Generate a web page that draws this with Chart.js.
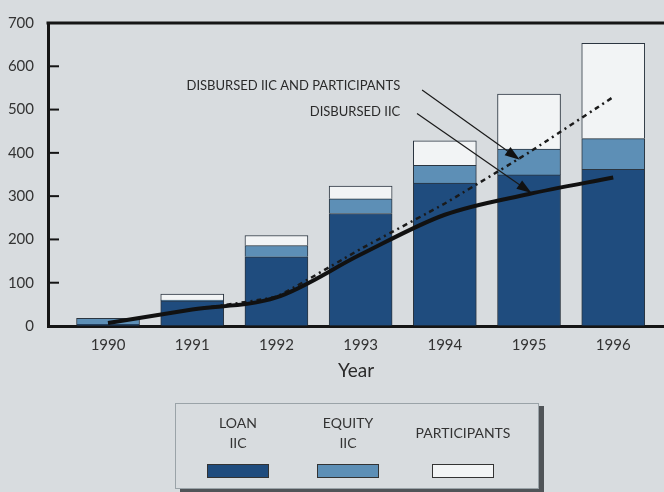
<!DOCTYPE html>
<html>
<head>
<meta charset="utf-8">
<script src="https://cdn.jsdelivr.net/npm/chart.js@4.4.0/dist/chart.umd.min.js"></script>
<style>
  html, body { margin: 0; padding: 0; background: #d8dcdf; }
  #wrap { position: relative; width: 664px; height: 492px; }
  canvas { position: absolute; left: 0; top: 0; }
  #legend {
    position: absolute; left: 175px; top: 403px; width: 362px; height: 84px;
    border: 1px solid #9aa3a8; box-shadow: 5px 3px 0 #505458;
    font-family: Lato, sans-serif; font-size: 14px; color: #333;
  }
  .item { position: absolute; text-align: center; line-height: 20px; }
  .sw { position: absolute; top: 60px; width: 60px; height: 12px; border: 1px solid #333; }
</style>
</head>
<body>
<div id="wrap">
  <canvas id="chart" width="664" height="492"></canvas>
  <div id="legend"></div>
</div>
<script>
const years = [1990, 1991, 1992, 1993, 1994, 1995, 1996];
const loanIIC = [4, 58, 160, 260, 330, 349, 362];
const equityIIC = [14, 2, 26, 34, 41, 60, 71];
const participants = [0, 14, 23, 29, 57, 127, 220];
const disbursedIIC = [7, 38, 66, 165, 257, 305, 343];
const disbursedAll = [7, 38, 68, 178, 283, 401, 529];
const yTicks = [0, 100, 200, 300, 400, 500, 600, 700];

const colors = { loan: '#1f4c7e', equity: '#5d8fb6', part: '#f2f4f5' };

// callout labels and arrows, in axis units
const callouts = [
    { text: 'DISBURSED IIC AND PARTICIPANTS', tx: 1993.47, ty: 556, from: [1993.73, 545], to: [1994.89, 384] },
    { text: 'DISBURSED IIC', tx: 1993.47, ty: 495, from: [1993.67, 491], to: [1995.03, 307] }
];

const pts = arr => years.map((y, i) => ({ x: y, y: arr[i] }));
const barStyle = { borderColor: '#2b3540', borderWidth: 1, barThickness: 63, order: 1, yAxisID: 'y' };

const extras = {
    id: 'extras',
    afterDraw(chart) {
        const { ctx, chartArea, scales: { x, y } } = chart;
        ctx.save();
        // top frame line
        ctx.strokeStyle = '#151515';
        ctx.lineWidth = 3;
        ctx.beginPath();
        ctx.moveTo(chartArea.left - 1.5, chartArea.top);
        ctx.lineTo(chartArea.right, chartArea.top);
        ctx.stroke();
        // inward tick marks
        ctx.lineWidth = 2;
        yTicks.slice(1, -1).forEach(v => {
            const py = y.getPixelForValue(v);
            ctx.beginPath();
            ctx.moveTo(chartArea.left, py);
            ctx.lineTo(chartArea.left + 11, py);
            ctx.stroke();
        });
        // callouts
        ctx.fillStyle = '#2a2a2a';
        ctx.font = '13px Lato, sans-serif';
        ctx.textAlign = 'right';
        ctx.textBaseline = 'middle';
        callouts.forEach(c => {
            const w = c.text.length > 20 ? 221 : 91;
            ctx.fillText(c.text, x.getPixelForValue(c.tx), y.getPixelForValue(c.ty), w);
            const x0 = x.getPixelForValue(c.from[0]), y0 = y.getPixelForValue(c.from[1]);
            const x1 = x.getPixelForValue(c.to[0]), y1 = y.getPixelForValue(c.to[1]);
            const a = Math.atan2(y1 - y0, x1 - x0);
            ctx.strokeStyle = '#1a1a1a';
            ctx.lineWidth = 1.2;
            ctx.beginPath();
            ctx.moveTo(x0, y0);
            ctx.lineTo(x1 - 12 * Math.cos(a), y1 - 12 * Math.sin(a));
            ctx.stroke();
            ctx.beginPath();
            ctx.moveTo(x1, y1);
            ctx.lineTo(x1 - 15 * Math.cos(a) + 5 * Math.sin(a), y1 - 15 * Math.sin(a) - 5 * Math.cos(a));
            ctx.lineTo(x1 - 15 * Math.cos(a) - 5 * Math.sin(a), y1 - 15 * Math.sin(a) + 5 * Math.cos(a));
            ctx.closePath();
            ctx.fillStyle = '#111';
            ctx.fill();
            ctx.fillStyle = '#2a2a2a';
        });
        ctx.restore();
    }
};

new Chart(document.getElementById('chart'), {
    type: 'bar',
    data: {
        datasets: [
            { label: 'LOAN IIC', data: pts(loanIIC), backgroundColor: colors.loan, ...barStyle },
            { label: 'EQUITY IIC', data: pts(equityIIC), backgroundColor: colors.equity, ...barStyle },
            { label: 'PARTICIPANTS', data: pts(participants), backgroundColor: colors.part, ...barStyle },
            {
                type: 'line', label: 'DISBURSED IIC', data: pts(disbursedIIC), yAxisID: 'y2',
                borderColor: '#111', borderWidth: 4, pointRadius: 0, cubicInterpolationMode: 'monotone', order: 0
            },
            {
                type: 'line', label: 'DISBURSED IIC AND PARTICIPANTS', data: pts(disbursedAll), yAxisID: 'y2',
                borderColor: '#1a1a1a', borderWidth: 2.5, borderDash: [5, 4, 2, 4], pointRadius: 0, tension: 0.1, order: 0
            }
        ]
    },
    options: {
        responsive: false,
        animation: false,
        layout: { padding: { top: 18, right: 0, left: 0, bottom: 110 } },
        plugins: { legend: { display: false }, tooltip: { enabled: false } },
        scales: {
            x: {
                type: 'linear', stacked: true, offset: false, min: 1989.287, max: 1996.603,
                afterBuildTicks: axis => { axis.ticks = years.map(v => ({ value: v })); },
                afterFit: s => { s.height = 56; },
                grid: { drawOnChartArea: false, drawTicks: false },
                border: { width: 3, color: '#151515' },
                ticks: { callback: v => String(v), font: { family: 'Lato', size: 15 }, color: '#333', padding: 10 },
                title: { display: true, text: 'Year', font: { family: 'Lato', size: 19 }, color: '#2a2a2a', padding: 0 }
            },
            y: {
                stacked: true, min: 0, max: 700,
                afterBuildTicks: axis => { axis.ticks = yTicks.map(v => ({ value: v })); },
                afterFit: s => { s.width = 48; },
                grid: { drawOnChartArea: false, drawTicks: false },
                border: { width: 3, color: '#151515' },
                ticks: { font: { family: 'Lato', size: 15 }, color: '#333', padding: 14 }
            },
            y2: { display: false, min: 0, max: 700 }
        }
    },
    plugins: [extras]
});

// legend box under the chart
const legendItems = [
    { lines: ['LOAN', 'IIC'], color: colors.loan, cx: 62 },
    { lines: ['EQUITY', 'IIC'], color: colors.equity, cx: 172 },
    { lines: ['PARTICIPANTS'], color: colors.part, cx: 287 }
];
const legend = document.getElementById('legend');
legendItems.forEach(it => {
    const t = document.createElement('div');
    t.className = 'item';
    t.style.left = (it.cx - 60) + 'px';
    t.style.width = '120px';
    t.style.top = (it.lines.length > 1 ? 9 : 19) + 'px';
    t.innerHTML = it.lines.join('<br>');
    legend.appendChild(t);
    const s = document.createElement('div');
    s.className = 'sw';
    s.style.left = (it.cx - 31) + 'px';
    s.style.background = it.color;
    legend.appendChild(s);
});
</script>
</body>
</html>
